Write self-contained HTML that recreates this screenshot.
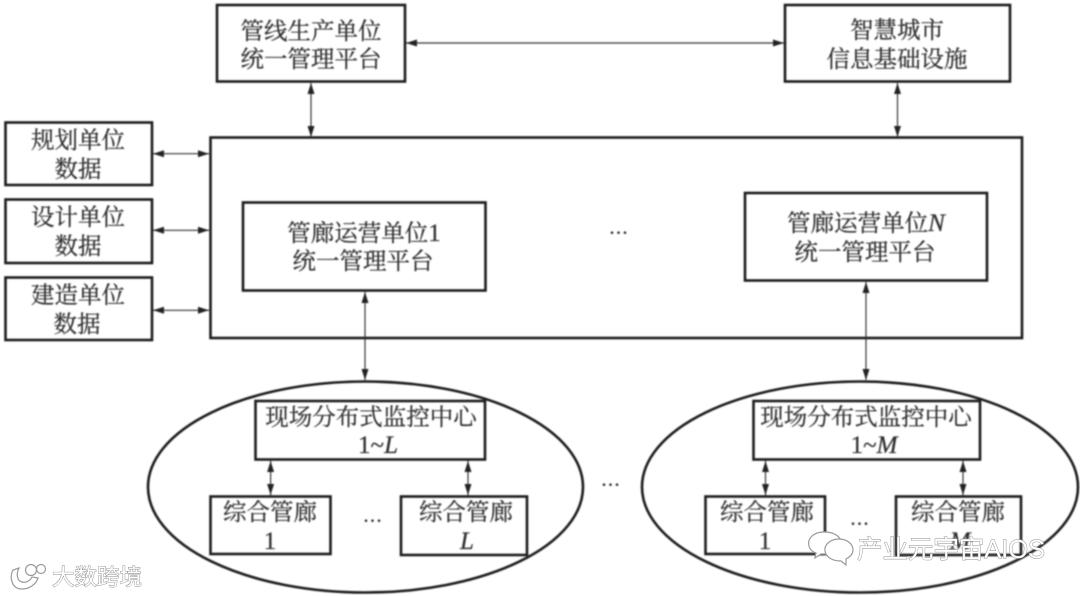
<!DOCTYPE html>
<html lang="zh">
<head>
<meta charset="utf-8">
<title>综合管廊统一管理平台架构图</title>
<style>
html,body{margin:0;padding:0;background:#fff;width:1080px;height:596px;overflow:hidden}
svg{display:block}
.diagram{filter:blur(.7px)}
.t{font-family:"Liberation Serif","Noto Serif CJK SC",serif;font-size:23.5px;fill:#2e2e2e;stroke:#2e2e2e;stroke-width:.25;text-anchor:middle}
.i{font-style:italic}
.n{font-size:25px}
.b{fill:none;stroke:#1c1c1c;stroke-width:2.6}
.l{stroke:#333;stroke-width:1.2;fill:none}
.h{fill:#222}
.d{font-family:"Liberation Serif",serif;font-size:22px;fill:#222;text-anchor:middle;letter-spacing:1px}
.wm{font-family:"Liberation Sans","Noto Sans CJK SC",sans-serif;fill:#fff;stroke:#8a8a8a;stroke-width:.9;paint-order:stroke}
</style>
</head>
<body>
<svg width="1080" height="596" viewBox="0 0 1080 596" xmlns="http://www.w3.org/2000/svg">
<g class="diagram">
<!-- boxes -->
<rect class="b" x="217" y="5" width="188" height="76.500"/>
<rect class="b" x="785" y="5" width="225" height="76.500"/>
<rect class="b" x="210.500" y="137.500" width="811.500" height="200.500"/>
<rect class="b" x="5.500" y="122.500" width="146.500" height="62.500"/>
<rect class="b" x="5.500" y="199.500" width="146.500" height="63.500"/>
<rect class="b" x="5.500" y="277.500" width="146.500" height="62.500"/>
<rect class="b" x="243" y="202.500" width="242.500" height="88"/>
<rect class="b" x="745" y="193" width="242" height="87.500"/>
<ellipse class="b" cx="365.500" cy="487" rx="217.500" ry="105.500"/>
<ellipse class="b" cx="860" cy="487" rx="218" ry="105.500"/>
<rect x="255.500" y="401" width="229.500" height="58.500" fill="#fff" class="b" style="fill:#fff"/>
<rect x="753.500" y="401" width="226.500" height="58.500" class="b" style="fill:#fff"/>
<rect x="210.500" y="496.500" width="120" height="57.500" class="b" style="fill:#fff"/>
<rect x="401" y="496.500" width="126" height="58.500" class="b" style="fill:#fff"/>
<rect x="705.500" y="496.500" width="119.500" height="57.500" class="b" style="fill:#fff"/>
<rect x="896" y="496.500" width="125" height="58.500" class="b" style="fill:#fff"/>

<!-- connectors -->
<g class="l">
<path d="M406 43H784"/>
<path d="M311 83V137"/>
<path d="M897.500 83V137"/>
<path d="M153 153.700H209"/>
<path d="M153 230.300H209"/>
<path d="M153 310.300H209"/>
<path d="M365 292V380"/>
<path d="M866 282V380"/>
<path d="M270.600 460V496"/>
<path d="M468 460V496"/>
<path d="M765.500 460V496"/>
<path d="M963 460V496"/>
</g>
<!-- arrowheads -->
<path class="h" d="M406 43L417 39.500V46.500Z"/>
<path class="h" d="M784 43L773 39.500V46.500Z"/>
<path class="h" d="M311 83L307.500 94H314.500Z"/>
<path class="h" d="M311 137L307.500 126H314.500Z"/>
<path class="h" d="M897.500 83L894 94H901Z"/>
<path class="h" d="M897.500 137L894 126H901Z"/>
<path class="h" d="M153 153.700L164 150.200V157.200Z"/>
<path class="h" d="M209 153.700L198 150.200V157.200Z"/>
<path class="h" d="M153 230.300L164 226.800V233.800Z"/>
<path class="h" d="M209 230.300L198 226.800V233.800Z"/>
<path class="h" d="M153 310.300L164 306.800V313.800Z"/>
<path class="h" d="M209 310.300L198 306.800V313.800Z"/>
<path class="h" d="M365 292L361.500 303H368.500Z"/>
<path class="h" d="M365 380L361.500 369H368.500Z"/>
<path class="h" d="M866 282L862.500 293H869.500Z"/>
<path class="h" d="M866 380L862.500 369H869.500Z"/>
<path class="h" d="M270.600 461L267.100 472H274.100Z"/>
<path class="h" d="M270.600 495L267.100 484H274.100Z"/>
<path class="h" d="M468 461L464.500 472H471.500Z"/>
<path class="h" d="M468 495L464.500 484H471.500Z"/>
<path class="h" d="M765.500 461L762 472H769Z"/>
<path class="h" d="M765.500 495L762 484H769Z"/>
<path class="h" d="M963 461L959.500 472H966.500Z"/>
<path class="h" d="M963 495L959.500 484H966.500Z"/>

<!-- text -->
<text class="t" x="311" y="39">管线生产单位</text>
<text class="t" x="311" y="67">统一管理平台</text>
<text class="t" x="897" y="38">智慧城市</text>
<text class="t" x="897" y="67">信息基础设施</text>
<text class="t" x="78" y="148">规划单位</text>
<text class="t" x="78" y="177">数据</text>
<text class="t" x="78" y="225">设计单位</text>
<text class="t" x="78" y="254">数据</text>
<text class="t" x="78" y="303">建造单位</text>
<text class="t" x="77" y="332">数据</text>
<text class="t" x="364" y="241">管廊运营单位<tspan class="n">1</tspan></text>
<text class="t" x="363" y="269">统一管理平台</text>
<text class="t" x="866" y="231">管廊运营单位<tspan class="i n">N</tspan></text>
<text class="t" x="865" y="260">统一管理平台</text>
<text class="t" x="371" y="425">现场分布式监控中心</text>
<text class="t" x="378" y="453"><tspan class="n">1~</tspan><tspan class="i n">L</tspan></text>
<text class="t" x="866" y="425">现场分布式监控中心</text>
<text class="t" x="874" y="453"><tspan class="n">1~</tspan><tspan class="i n">M</tspan></text>
<text class="t" x="270" y="520">综合管廊</text>
<text class="t n" x="270" y="549">1</text>
<text class="t" x="466" y="520">综合管廊</text>
<text class="t n i" x="467" y="549">L</text>
<text class="t" x="767" y="520">综合管廊</text>
<text class="t n" x="765" y="549">1</text>
<text class="t" x="958" y="520">综合管廊</text>
<text class="t n i" x="960" y="549">M</text>
<text class="d" x="619" y="234">...</text>
<text class="d" x="373" y="522">...</text>
<text class="d" x="611" y="486">...</text>
<text class="d" x="860" y="525">...</text>
</g>

<!-- watermarks -->
<g fill="#fff" stroke="#9a9a9a" stroke-width="1.200">
<path d="M13 570C9 578 12 589 22 589C30 589 36 584 38 578L32 577C30 581 26 583 22 582C17 581 16 574 19 568Z"/>
<circle cx="31" cy="570" r="5.500"/>
<circle cx="41" cy="569" r="4.500"/>
<path d="M824 532C813 532 807 539 809 546C810 550 813 552 816 553L815 558L821 554C823 554 825 554 827 554C827 546 833 540 841 540C838 535 832 532 824 532Z"/>
<path d="M839 539C830 539 824 545 825 551C826 557 832 561 841 561L846 565L846 559C850 557 853 554 853 550C853 544 847 539 839 539Z"/>
</g>
<text class="wm" x="52" y="585" font-size="22.500">大数跨境</text>
<text class="wm" x="857" y="558" font-size="25.500" textLength="188">产业元宇宙AIOS</text>
</svg>
</body>
</html>
